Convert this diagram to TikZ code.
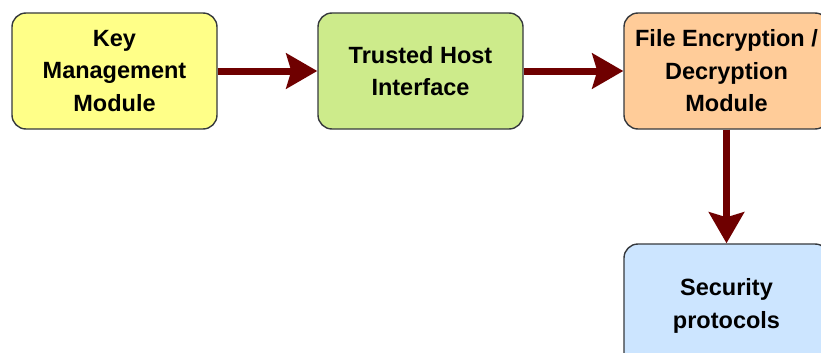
\documentclass[tikz,border=0pt]{standalone}
\usepackage{fontspec}
\setmainfont{Liberation Sans}
\usetikzlibrary{arrows.meta}
\definecolor{boxline}{HTML}{36393D}
\definecolor{keyfill}{HTML}{FFFF88}
\definecolor{hostfill}{HTML}{CDEB8B}
\definecolor{cryptfill}{HTML}{FFCC99}
\definecolor{secfill}{HTML}{CCE5FF}
\definecolor{flow}{HTML}{6F0000}
\tikzset{
  module/.style={draw=boxline, line width=1.4pt, rounded corners=14pt,
    minimum width=205pt, minimum height=116pt, inner sep=0pt,
    align=center, font=\fontsize{23.5}{32.5}\selectfont\bfseries},
  flowarrow/.style={draw=flow, line width=7pt,
    -{Stealth[length=31pt, width=35pt, inset=5pt, flow]}}
}
\begin{document}
\begin{tikzpicture}[x=1pt, y=-1pt]
  \clip (0,0) rectangle (821,353);
  \useasboundingbox (0,0) rectangle (821,353);
  \node[module, fill=keyfill]   (key)   at (114.5,71) {Key\\Management\\Module};
  \node[module, fill=hostfill]  (host)  at (420.5,71) {Trusted Host\\Interface};
  \node[module, fill=cryptfill] (crypt) at (726.5,71) {File Encryption /\\Decryption\\Module};
  \node[module, fill=secfill, minimum height=124pt] (sec) at (726.5,306) {Security\\protocols};
  \draw[flowarrow] (key.east) -- (host.west);
  \draw[flowarrow] (host.east) -- (crypt.west);
  \draw[flowarrow] (crypt.south) -- (sec.north);
\end{tikzpicture}
\end{document}
